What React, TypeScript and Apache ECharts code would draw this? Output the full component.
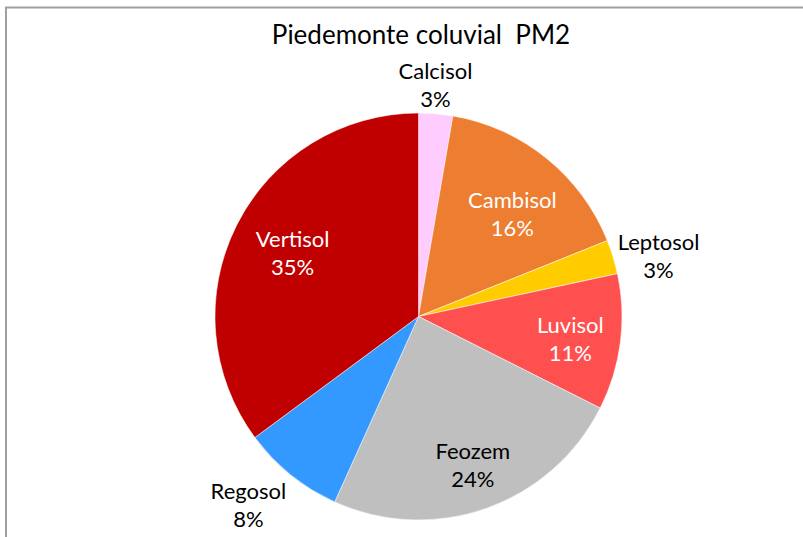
import React, { useEffect, useRef } from "react";
import * as echarts from "echarts";

const title = "Piedemonte coluvial  PM2";
const categories = ["Calcisol", "Cambisol", "Leptosol", "Luvisol", "Feozem", "Regosol", "Vertisol"];
const values = [1, 6, 1, 4, 9, 3, 13];
const colors = ["#FFCCFF", "#ED7D31", "#FFCC00", "#FF5050", "#BFBFBF", "#3399FF", "#C00000"];
const innerLabelColors: Record<string, string> = {
  Cambisol: "#FFFFFF",
  Luvisol: "#FFFFFF",
  Vertisol: "#FFFFFF",
  Feozem: "#000000",
};
// small label nudges [dx, dy] per category
const labelNudges = [
  [-3, 2],
  [-1, 14],
  [1, 12],
  [2, 3],
  [4, 6],
  [-8, -13],
  [9, 4],
];

const FONT = "Lato, 'Noto Sans', sans-serif";
const CENTER = [418.5, 316.5];
const R = 203.5;

function labelSeries(radius: number, names: string[]) {
  return {
    type: "pie",
    center: CENTER,
    radius: [0, radius],
    startAngle: 90,
    clockwise: true,
    silent: true,
    percentPrecision: 0,
    avoidLabelOverlap: false,
    minShowLabelAngle: 0,
    emphasis: { disabled: true },
    itemStyle: { color: "rgba(0,0,0,0)", borderWidth: 0 },
    labelLine: { show: false },
    labelLayout: (p: any) => ({ dx: labelNudges[p.dataIndex][0], dy: labelNudges[p.dataIndex][1] }),
    z: 5,
    data: categories.map((name, i) => ({
      name,
      value: values[i],
      label: {
        show: names.includes(name),
        position: "inside",
        formatter: "{b}\n{d}%",
        color: innerLabelColors[name] || "#000000",
        fontFamily: FONT,
        fontSize: 22,
        lineHeight: 28,
      },
    })),
  };
}

export default function App() {
  const ref = useRef<HTMLDivElement>(null);
  useEffect(() => {
    if (!ref.current) return;
    const chart = echarts.init(ref.current, null, { renderer: "svg" });
    chart.setOption({
      animation: false,
      backgroundColor: "#FFFFFF",
      title: {
        text: title,
        left: 416,
        textAlign: "center",
        top: 16,
        textStyle: { fontFamily: FONT, fontSize: 26, fontWeight: "normal", color: "#000000" },
      },
      graphic: [
        {
          type: "rect",
          shape: { x: 6, y: 7.5, width: 900, height: 700 },
          style: { fill: "none", stroke: "#A0A0A0", lineWidth: 2 },
          silent: true,
          z: 100,
        },
      ],
      series: [
        {
          type: "pie",
          center: CENTER,
          radius: [0, R],
          startAngle: 90,
          clockwise: true,
          silent: true,
          emphasis: { disabled: true },
          label: { show: false },
          labelLine: { show: false },
          itemStyle: { borderColor: "#FFFFFF", borderWidth: 0.5 },
          data: categories.map((name, i) => ({
            name,
            value: values[i],
            itemStyle: { color: colors[i] },
          })),
          z: 2,
        },
        labelSeries(2 * 148, ["Cambisol", "Luvisol", "Feozem", "Vertisol"]),
        labelSeries(2 * 232, ["Calcisol"]),
        labelSeries(2 * 247, ["Leptosol"]),
        labelSeries(2 * 255, ["Regosol"]),
      ],
    });
    return () => chart.dispose();
  }, []);
  return (
    <div
      ref={ref}
      style={{ position: "fixed", left: 0, top: 0, width: 803, height: 537 }}
    />
  );
}
